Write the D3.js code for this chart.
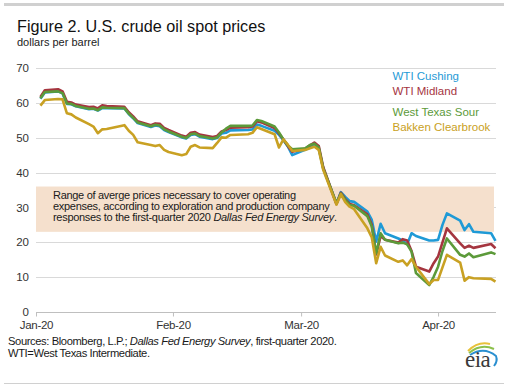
<!DOCTYPE html>
<html><head><meta charset="utf-8">
<script src="https://cdn.jsdelivr.net/npm/d3@7/dist/d3.min.js"></script>
<style>
html,body{margin:0;padding:0;background:#fff;}
svg{display:block;font-family:"Liberation Sans",Arial,sans-serif;}
</style></head>
<body>
<svg id="chart" width="508" height="392"></svg>
<script>
// ---------- data ----------
const dates = [
 "2020-01-02","2020-01-03","2020-01-06","2020-01-07","2020-01-08","2020-01-09","2020-01-10","2020-01-13","2020-01-14","2020-01-15","2020-01-16","2020-01-17","2020-01-21","2020-01-22","2020-01-23","2020-01-24","2020-01-27","2020-01-28","2020-01-29","2020-01-30","2020-01-31",
 "2020-02-03","2020-02-04","2020-02-05","2020-02-06","2020-02-07","2020-02-10","2020-02-11","2020-02-12","2020-02-13","2020-02-14","2020-02-18","2020-02-19","2020-02-20","2020-02-21","2020-02-24","2020-02-25","2020-02-26","2020-02-27","2020-02-28",
 "2020-03-02","2020-03-03","2020-03-04","2020-03-05","2020-03-06","2020-03-09","2020-03-10","2020-03-11","2020-03-12","2020-03-13","2020-03-16","2020-03-17","2020-03-18","2020-03-19","2020-03-20","2020-03-23","2020-03-24","2020-03-25","2020-03-26","2020-03-27","2020-03-30","2020-03-31",
 "2020-04-01","2020-04-02","2020-04-03","2020-04-06","2020-04-07","2020-04-08","2020-04-09","2020-04-13","2020-04-14"
];
const wtiCushing = [
 61.2,63.0,63.3,62.7,59.7,59.6,59.0,58.2,58.3,57.8,58.5,58.5,58.4,56.8,55.6,54.2,53.1,53.5,53.3,52.2,51.6,
 50.1,49.8,50.8,51.0,50.3,49.6,49.9,51.2,51.4,52.1,52.2,52.4,53.8,53.4,52.0,50.8,49.3,47.5,45.0,
 46.6,47.2,47.9,46.8,41.3,31.1,34.4,33.0,31.8,31.6,28.8,26.4,20.2,25.3,22.6,21.1,20.5,19.4,22.6,21.8,20.5,20.5,
 20.7,25.0,28.3,26.2,23.5,25.2,23.0,22.6,20.4
];
const wtiMidland = [
 61.7,63.6,63.9,63.3,60.3,60.1,59.5,58.8,58.9,58.4,59.3,59.1,58.9,57.3,56.1,54.7,53.6,54.1,54.0,52.8,52.2,
 50.6,50.3,51.4,51.6,50.9,50.2,50.5,51.8,52.2,52.9,53.0,53.2,54.7,54.4,52.8,51.2,49.5,47.6,46.0,
 46.9,47.8,48.6,47.6,41.6,31.0,34.2,32.4,31.0,30.6,28.0,25.0,16.5,21.8,20.7,19.9,20.9,20.5,17.5,13.0,11.6,14.0,
 15.9,20.0,24.0,19.7,18.4,19.0,18.4,19.5,18.3
];
const westTexasSour = [
 61.3,63.1,63.3,62.8,59.8,59.7,59.1,58.3,58.4,57.9,58.7,58.6,58.5,56.9,55.7,54.4,53.3,53.7,53.5,52.4,51.8,
 50.3,49.9,51.0,51.2,50.5,49.8,50.1,51.5,52.6,53.4,53.4,53.5,55.1,54.8,53.2,51.5,49.5,47.8,46.7,
 47.0,47.9,48.3,47.2,41.2,31.2,34.0,32.2,30.7,30.5,27.5,24.5,16.8,22.6,20.7,19.7,19.9,19.4,17.3,11.2,7.7,10.1,
 13.0,17.5,21.1,16.4,15.9,16.8,15.7,17.1,16.6
];
const bakkenClearbrook = [
 59.2,60.8,61.1,61.0,57.0,56.7,55.8,53.9,53.2,51.3,52.4,52.5,53.6,52.0,50.8,48.7,47.9,47.6,47.9,46.5,45.9,
 45.0,45.3,47.4,47.9,47.2,47.0,48.5,50.1,50.0,50.8,51.0,51.4,53.0,52.5,51.0,47.2,49.5,48.0,46.2,
 46.5,47.0,47.4,46.5,40.8,30.8,33.8,31.5,30.2,29.5,24.0,21.4,14.0,18.7,16.2,14.4,14.8,13.4,15.2,13.0,8.0,9.2,
 9.2,12.8,16.4,14.2,9.0,10.0,9.7,9.5,8.7
];
const seriesNames = ["WTI Cushing","WTI Midland","West Texas Sour","Bakken Clearbrook"];
const seriesColors = ["#1f9ad6","#a5353f","#5c9a3a","#c9a123"];
const yTicks = [0,10,20,30,40,50,60,70];
const xTickDates = ["2020-01-01","2020-02-01","2020-03-01","2020-04-01"];
const xTickLabels = ["Jan-20","Feb-20","Mar-20","Apr-20"];
const bandRange = [23,36];
const bandText = [
 [["Range of averge prices necessary to cover operating",false]],
 [["expenses, according to exploration and production company",false]],
 [["responses to the first-quarter 2020 ",false],["Dallas Fed Energy Survey",true],[".",false]]
];
const sourceLines = [
 [["Sources: Bloomberg, L.P.; ",false],["Dallas Fed Energy Survey",true],[", first-quarter 2020.",false]],
 [["WTI=West Texas Intermediate.",false]]
];

// ---------- drawing ----------
const svg = d3.select("#chart");
const parse = d3.timeParse("%Y-%m-%d");
const dts = dates.map(parse);
const x = d3.scaleTime().domain([parse("2020-01-01"), parse("2020-04-14")]).range([36, 495.5]);
const y = d3.scaleLinear().domain([0,70]).range([312, 68]);

// frame lines
svg.append("rect").attr("x",4).attr("y",3).attr("width",500).attr("height",3).attr("fill","#d0d0d0");
svg.append("line").attr("x1",4).attr("x2",504).attr("y1",383.5).attr("y2",383.5).attr("stroke","#d0d0d0").attr("stroke-width",1);

// titles
svg.append("text").attr("x",17).attr("y",32).attr("font-size",16.2).attr("fill","#111").text("Figure 2. U.S. crude oil spot prices");
svg.append("text").attr("x",17).attr("y",46).attr("font-size",11).attr("fill","#222").text("dollars per barrel");

// grid
svg.append("g").selectAll("line").data(yTicks.filter(d=>d>0)).join("line")
  .attr("x1",36).attr("x2",496).attr("y1",d=>Math.round(y(d))+0.5).attr("y2",d=>Math.round(y(d))+0.5)
  .attr("stroke","#d9d9d9").attr("stroke-width",1);

// band
svg.append("rect").attr("x",36).attr("width",458)
  .attr("y",y(bandRange[1])).attr("height",y(bandRange[0])-y(bandRange[1]))
  .attr("fill","#f5e0cd");

// band text
const bt = svg.append("text").attr("font-size",11).attr("fill","#1a1a1a").attr("letter-spacing","-0.3");
bandText.forEach((line,i)=>{
  line.forEach((seg,j)=>{
    const t = bt.append("tspan").text(seg[0]).attr("font-style",seg[1]?"italic":null);
    if(j===0) t.attr("x",53).attr("y",198.5+i*11);
  });
});

// y axis labels
const yAxis = d3.axisLeft(y).tickValues(yTicks).tickSize(0).tickPadding(0).tickFormat(d3.format("d"));
const gy = svg.append("g").attr("transform","translate(29,0)").call(yAxis);
gy.select(".domain").remove();
gy.selectAll("text").attr("font-size",11.5).attr("fill","#333").attr("font-family","Liberation Sans, Arial, sans-serif");

// x axis
const xAxis = d3.axisBottom(x).tickValues(xTickDates.map(parse)).tickSize(4).tickPadding(4)
  .tickFormat((d,i)=>xTickLabels[i]);
const gx = svg.append("g").attr("transform","translate(0,312.5)").call(xAxis);
gx.select(".domain").attr("d","M36,0H496").attr("stroke","#bfbfbf");
gx.selectAll(".tick line").attr("stroke","#bfbfbf");
gx.selectAll("text").attr("font-size",11.5).attr("fill","#333").attr("font-family","Liberation Sans, Arial, sans-serif").attr("letter-spacing","-0.3");

// lines
const allSeries = [wtiCushing, wtiMidland, westTexasSour, bakkenClearbrook];
const line = d3.line().x((d,i)=>x(dts[i])).y(d=>y(d)).curve(d3.curveLinear);
allSeries.forEach((s,k)=>{
  svg.append("path").datum(s).attr("d",(d)=>line(d)).attr("fill","none")
    .attr("stroke",seriesColors[k]).attr("stroke-width",2.6).attr("stroke-linejoin","round");
});

// legend labels
const legY = [80,95,115.5,131];
seriesNames.forEach((n,k)=>{
  svg.append("text").attr("x",392.5).attr("y",legY[k]).attr("font-size",11.5).attr("fill",seriesColors[k]).text(n);
});

// sources
const st = svg.append("text").attr("font-size",11.2).attr("fill","#1a1a1a").attr("letter-spacing","-0.4");
sourceLines.forEach((line,i)=>{
  line.forEach((seg,j)=>{
    const t = st.append("tspan").text(seg[0]).attr("font-style",seg[1]?"italic":null);
    if(j===0) t.attr("x",8).attr("y",345+i*12);
  });
});

// eia logo
const logo = svg.append("g");
logo.append("path").attr("d","M468,351 Q478,341 490,344").attr("fill","none").attr("stroke","#e8c23a").attr("stroke-width",2);
logo.append("path").attr("d","M469,353 Q481,343 494,349").attr("fill","none").attr("stroke","#8cc04b").attr("stroke-width",2);
logo.append("path").attr("d","M470,355 Q484,346 496,356 Q498,361 494,366").attr("fill","none").attr("stroke","#2a8fd0").attr("stroke-width",2);
logo.append("text").attr("x",465).attr("y",367).attr("font-family","Liberation Serif, Times New Roman, serif").attr("font-size",23).attr("fill","#3a3a3a").attr("letter-spacing","-0.5").text("eia");
</script>
</body></html>
